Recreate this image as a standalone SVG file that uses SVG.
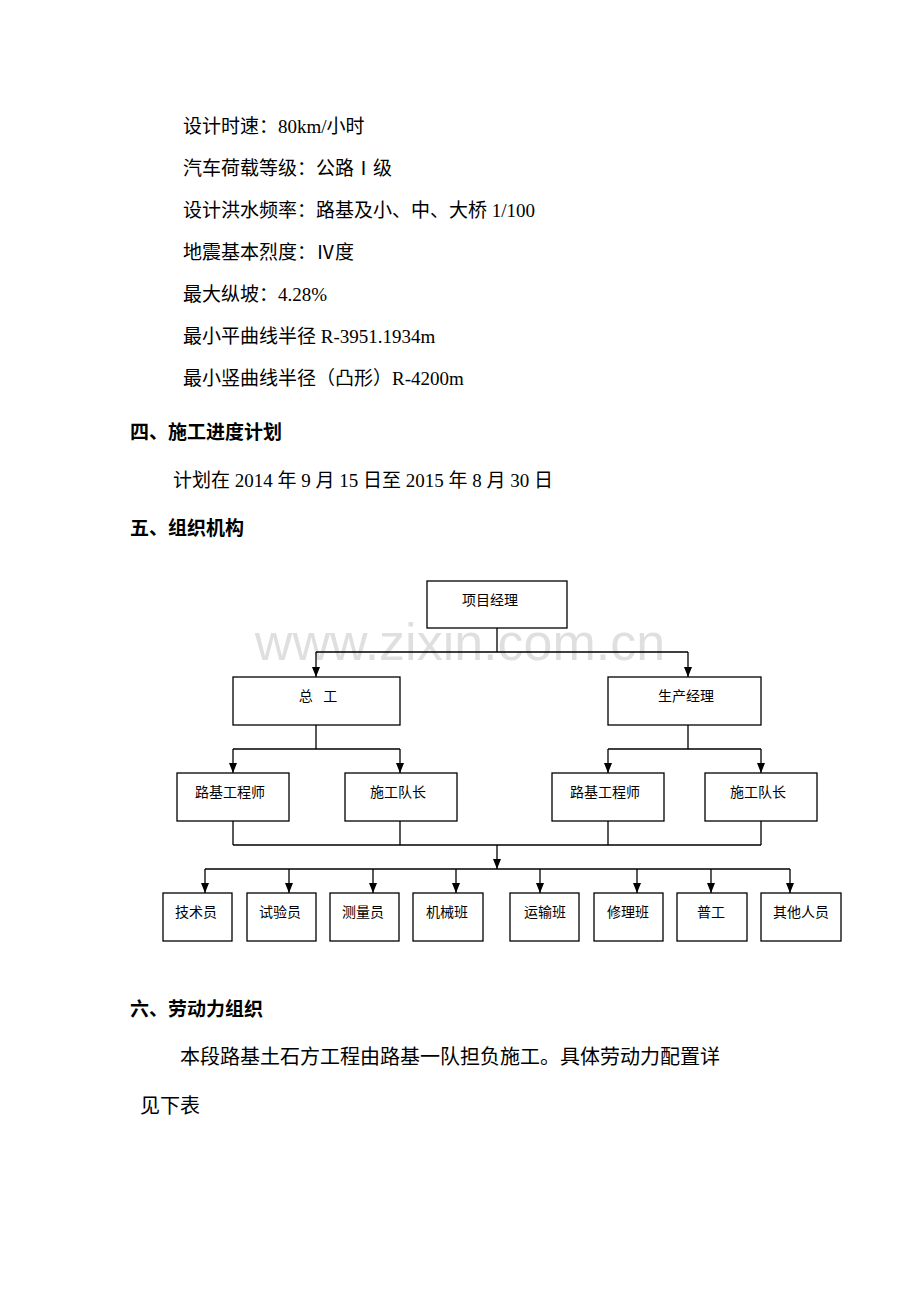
<svg xmlns="http://www.w3.org/2000/svg" width="920" height="1302" viewBox="0 0 920 1302">
<style>
.t{font-family:"Liberation Serif","Noto Sans CJK SC",serif;font-size:19px;fill:#000}
.h{font-family:"Liberation Sans","Noto Sans CJK SC",sans-serif;font-size:19px;font-weight:bold;fill:#000}
.b{font-family:"Liberation Serif","Noto Sans CJK SC",serif;font-size:14px;fill:#000;text-anchor:middle}
rect{fill:#fff;stroke:#000;stroke-width:1.3}
.c path{fill:none;stroke:#000;stroke-width:1.3}
</style>
<defs><marker id="a" markerWidth="10" markerHeight="8" refX="10" refY="4" orient="auto" markerUnits="userSpaceOnUse" viewBox="0 0 10 8"><path d="M0,0L10,4L0,8z" fill="#000"/></marker></defs>
<rect x="0" y="0" width="920" height="1302" style="stroke:none"/>
<text class="t" x="183" y="133">设计时速：80km/小时</text>
<text class="t" x="183" y="175">汽车荷载等级：公路Ⅰ级</text>
<text class="t" x="183" y="217">设计洪水频率：路基及小、中、大桥 1/100</text>
<text class="t" x="183" y="259">地震基本烈度：Ⅳ度</text>
<text class="t" x="183" y="301">最大纵坡：4.28%</text>
<text class="t" x="183" y="343">最小平曲线半径 R-3951.1934m</text>
<text class="t" x="183" y="385">最小竖曲线半径（凸形）R-4200m</text>
<text class="h" x="130" y="439">四、施工进度计划</text>
<text class="t" x="173" y="487">计划在 2014 年 9 月 15 日至 2015 年 8 月 30 日</text>
<text class="h" x="130" y="535">五、组织机构</text>
<text x="460" y="660" text-anchor="middle" style="font-family:'Liberation Sans',sans-serif;font-size:52px;fill:#000;opacity:0.12">www.zixin.com.cn</text>
<g class="c">
<path d="M497,628V652M316,652H688"/>
<path d="M316,652V677" marker-end="url(#a)"/><path d="M688,652V677" marker-end="url(#a)"/>
<path d="M316,725V749M233,749H400"/>
<path d="M233,749V773" marker-end="url(#a)"/><path d="M400,749V773" marker-end="url(#a)"/>
<path d="M688,725V749M608,749H761"/>
<path d="M608,749V773" marker-end="url(#a)"/><path d="M761,749V773" marker-end="url(#a)"/>
<path d="M233,821V845M400,821V845M608,821V845M761,821V845M233,845H761"/>
<path d="M497,845V869" marker-end="url(#a)"/>
<path d="M205,869H790"/>
<path d="M205,869V893" marker-end="url(#a)"/><path d="M289,869V893" marker-end="url(#a)"/>
<path d="M373,869V893" marker-end="url(#a)"/><path d="M456,869V893" marker-end="url(#a)"/>
<path d="M540,869V893" marker-end="url(#a)"/><path d="M637,869V893" marker-end="url(#a)"/>
<path d="M711,869V893" marker-end="url(#a)"/><path d="M790,869V893" marker-end="url(#a)"/>
</g>
<g id="n0"><rect x="427" y="581" width="140" height="47"/><text class="b" x="490" y="605">项目经理</text></g>
<g id="n1"><rect x="233" y="677" width="167" height="48"/><text class="b" x="318" y="701" xml:space="preserve">总   工</text></g>
<g id="n2"><rect x="608" y="677" width="153" height="48"/><text class="b" x="686" y="701">生产经理</text></g>
<g id="n3"><rect x="177" y="773" width="112" height="48"/><text class="b" x="230" y="797">路基工程师</text></g>
<g id="n4"><rect x="345" y="773" width="112" height="48"/><text class="b" x="398" y="797">施工队长</text></g>
<g id="n5"><rect x="552" y="773" width="112" height="48"/><text class="b" x="605" y="797">路基工程师</text></g>
<g id="n6"><rect x="705" y="773" width="112" height="48"/><text class="b" x="758" y="797">施工队长</text></g>
<g id="n7"><rect x="163" y="893" width="69" height="48"/><text class="b" x="196" y="917">技术员</text></g>
<g id="n8"><rect x="247" y="893" width="69" height="48"/><text class="b" x="280" y="917">试验员</text></g>
<g id="n9"><rect x="330" y="893" width="69" height="48"/><text class="b" x="363" y="917">测量员</text></g>
<g id="n10"><rect x="413" y="893" width="70" height="48"/><text class="b" x="447" y="917">机械班</text></g>
<g id="n11"><rect x="510" y="893" width="69" height="48"/><text class="b" x="545" y="917">运输班</text></g>
<g id="n12"><rect x="594" y="893" width="69" height="48"/><text class="b" x="628" y="917">修理班</text></g>
<g id="n13"><rect x="677" y="893" width="70" height="48"/><text class="b" x="711" y="917">普工</text></g>
<g id="n14"><rect x="761" y="893" width="80" height="48"/><text class="b" x="801" y="917">其他人员</text></g>
<text class="h" x="130" y="1016">六、劳动力组织</text>
<text class="t" x="180" y="1064" style="font-size:20px">本段路基土石方工程由路基一队担负施工。具体劳动力配置详</text>
<text class="t" x="140" y="1113" style="font-size:20px">见下表</text>
</svg>
